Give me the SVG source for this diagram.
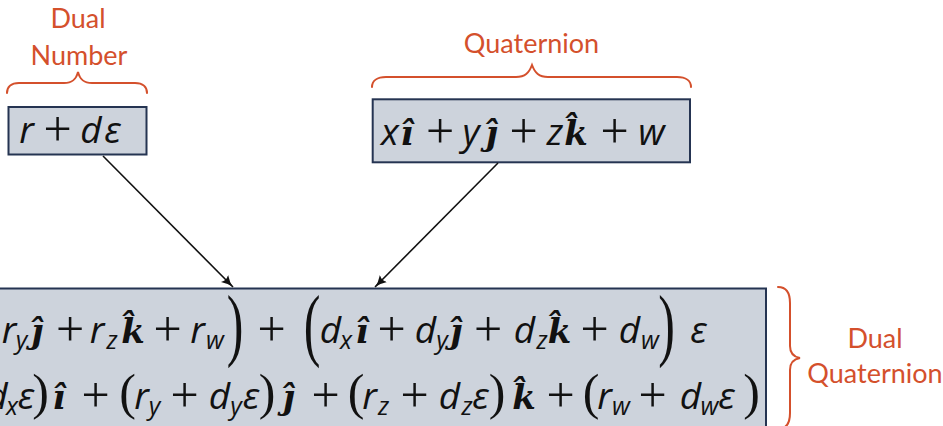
<svg xmlns="http://www.w3.org/2000/svg" width="943" height="426" viewBox="0 0 943 426">
<style>
.box{fill:#cdd3dc;stroke:#253452;stroke-width:2}
.brace{fill:none;stroke:#d4502c;stroke-width:2;stroke-linecap:round}
.lbl{font-family:Lato,"Open Sans","Liberation Sans",sans-serif;font-size:27px;fill:#d4502c;text-anchor:middle}
.eq{text-anchor:middle;fill:#111}
.m{font-family:"Open Sans","DejaVu Sans",sans-serif;font-style:italic;font-size:37px}
.s{font-family:"Open Sans","DejaVu Sans",sans-serif;font-style:italic;font-size:25px}
.b{font-family:"DejaVu Serif",serif;font-weight:bold;font-style:italic;font-size:34px}
.p{font-family:"Liberation Serif",serif;font-size:50px}
.pp{font-family:"Liberation Serif",serif;font-size:50px}
.conn{stroke:#111;stroke-width:1.6;fill:none;marker-end:url(#arr)}
</style>
<defs>
<marker id="arr" markerUnits="userSpaceOnUse" markerWidth="14" markerHeight="12" refX="12" refY="5" orient="auto" viewBox="0 0 14 10">
<path d="M0,0 Q6,4 12,5 Q6,6 0,10 Q3,5 0,0 z" fill="#111"/>
</marker>
</defs>

<g id="label-dual-number">
<text class="lbl" x="78" y="28">Dual</text>
<text class="lbl" x="79" y="65">Number</text>
<path class="brace" d="M7,93 C7,87 11,83 19,83 L64,83 C72,83 76,80 78,72 C80,80 84,83 92,83 L135,83 C143,83 147,87 147,93"/>
</g>

<g id="label-quaternion">
<text class="lbl" x="531.5" y="53">Quaternion</text>
<path class="brace" d="M372,87 C372,81 377,77 386,77 L516,77 C525,77 529,73 532,65 C535,73 539,77 548,77 L677,77 C686,77 691,81 691,87"/>
</g>

<g id="label-dual-quaternion">
<text class="lbl" x="875" y="348">Dual</text>
<text class="lbl" x="875" y="383">Quaternion</text>
<path class="brace" d="M778,287 C786,287 790,293 790,303 L790,346 C790,353 794,357 800,358 C794,359 790,363 790,370 L790,413 C790,423 786,429 778,429"/>
</g>

<g id="node-dual-number">
<rect class="box" x="8.5" y="107" width="138" height="47.5"/>
<text class="eq" y="143"><tspan class="m" x="26.5">r</tspan><tspan class="p" x="57.5" y="145.5">+</tspan><tspan class="m" x="91" y="143">d</tspan><tspan class="m" x="112.5">ε</tspan></text>
</g>

<g id="node-quaternion">
<rect class="box" x="372.7" y="99.3" width="317.3" height="63"/>
<text class="eq" y="145"><tspan class="m" x="390">x</tspan><tspan class="b" x="407">ı̂</tspan><tspan class="p" x="440" y="147.5">+</tspan><tspan class="m" x="471" y="145">y</tspan><tspan class="b" x="491.5">ȷ̂</tspan><tspan class="p" x="523.5" y="147.5">+</tspan><tspan class="m" x="555" y="145">z</tspan><tspan class="b" x="576">k̂</tspan><tspan class="p" x="614.5" y="147.5">+</tspan><tspan class="m" x="651.5" y="145">w</tspan></text>
</g>

<g id="node-dual-quaternion">
<rect class="box" x="-10" y="288.5" width="776" height="150"/>
<text class="eq" y="343"><tspan class="m" x="9">r</tspan><tspan class="s" x="21.5" y="349">y</tspan><tspan class="b" x="37" y="343">ȷ̂</tspan><tspan class="p" x="70" y="345.5">+</tspan><tspan class="m" x="97" y="343">r</tspan><tspan class="s" x="112" y="349">z</tspan><tspan class="b" x="133" y="343">k̂</tspan><tspan class="p" x="167.5" y="345.5">+</tspan><tspan class="m" x="197.5" y="343">r</tspan><tspan class="s" x="215" y="349">w</tspan><tspan class="p" x="271.5" y="345.5">+</tspan><tspan class="m" x="330.5" y="343">d</tspan><tspan class="s" x="346" y="349">x</tspan><tspan class="b" x="362" y="343">ı̂</tspan><tspan class="p" x="391.5" y="345.5">+</tspan><tspan class="m" x="425.5" y="343">d</tspan><tspan class="s" x="442" y="349">y</tspan><tspan class="b" x="456" y="343">ȷ̂</tspan><tspan class="p" x="488" y="345.5">+</tspan><tspan class="m" x="524.5" y="343">d</tspan><tspan class="s" x="542" y="349">z</tspan><tspan class="b" x="559.5" y="343">k̂</tspan><tspan class="p" x="594.5" y="345.5">+</tspan><tspan class="m" x="629.5" y="343">d</tspan><tspan class="s" x="650" y="349">w</tspan><tspan class="m" x="698.5" y="343">ε</tspan></text>
<text class="eq pp" transform="translate(235,351) scale(1,1.6)" x="0" y="0">)</text>
<text class="eq pp" transform="translate(312,351) scale(1,1.6)" x="0" y="0">(</text>
<text class="eq pp" transform="translate(666.5,351) scale(1,1.6)" x="0" y="0">)</text>
<text class="eq" y="409"><tspan class="m" x="-3">d</tspan><tspan class="s" x="12" y="415">x</tspan><tspan class="m" x="26" y="409">ε</tspan><tspan class="pp" x="40.5">)</tspan><tspan class="b" x="59">ı̂</tspan><tspan class="p" x="95.5" y="411.5">+</tspan><tspan class="pp" x="127.5" y="409">(</tspan><tspan class="m" x="141.5">r</tspan><tspan class="s" x="154.5" y="415">y</tspan><tspan class="p" x="184.5" y="411.5">+</tspan><tspan class="m" x="219.5" y="409">d</tspan><tspan class="s" x="236" y="415">y</tspan><tspan class="m" x="251" y="409">ε</tspan><tspan class="pp" x="267">)</tspan><tspan class="b" x="288.5">ȷ̂</tspan><tspan class="p" x="325.5" y="411.5">+</tspan><tspan class="pp" x="356" y="409">(</tspan><tspan class="m" x="369.5">r</tspan><tspan class="s" x="383.5" y="415">z</tspan><tspan class="p" x="414.5" y="411.5">+</tspan><tspan class="m" x="449.5" y="409">d</tspan><tspan class="s" x="467" y="415">z</tspan><tspan class="m" x="480.5" y="409">ε</tspan><tspan class="pp" x="497">)</tspan><tspan class="b" x="524">k̂</tspan><tspan class="p" x="560.5" y="411.5">+</tspan><tspan class="pp" x="591" y="409">(</tspan><tspan class="m" x="604.5">r</tspan><tspan class="s" x="621" y="415">w</tspan><tspan class="p" x="652.5" y="411.5">+</tspan><tspan class="m" x="690.5" y="409">d</tspan><tspan class="s" x="709.5" y="415">w</tspan><tspan class="m" x="726.5" y="409">ε</tspan><tspan class="pp" x="751.5">)</tspan></text>
</g>

<g id="connectors">
<line class="conn" x1="103" y1="156" x2="233" y2="287"/>
<line class="conn" x1="498" y1="163" x2="375" y2="287"/>
</g>
</svg>
